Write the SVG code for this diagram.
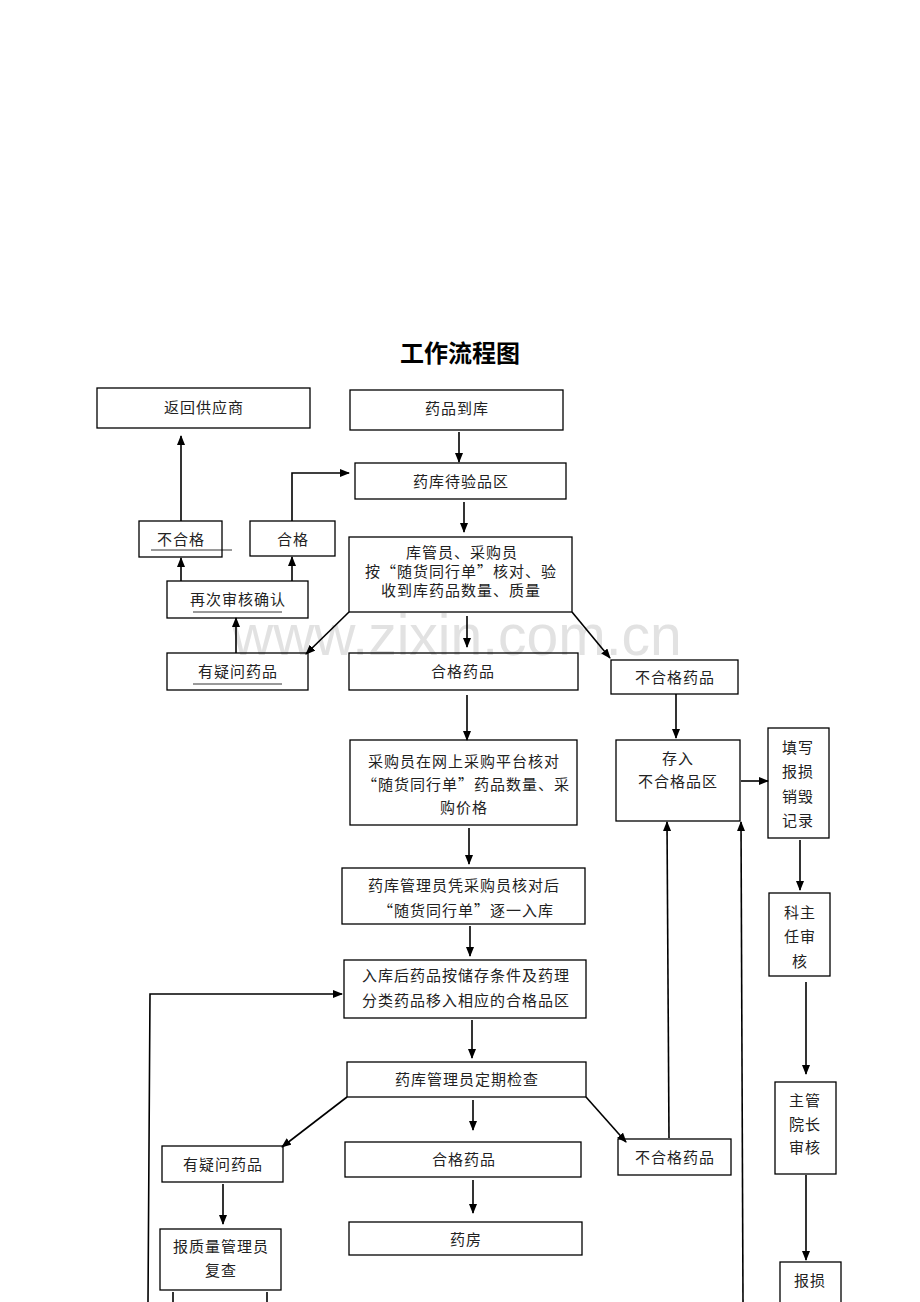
<svg xmlns="http://www.w3.org/2000/svg" width="920" height="1302" viewBox="0 0 920 1302">
<style>
.b{fill:none;stroke:#000;stroke-width:1.3}
.t{font-family:"Noto Sans CJK SC","Noto Sans",sans-serif;font-size:15px;fill:#222;text-anchor:middle;letter-spacing:1px}
.c{fill:none;stroke:#000;stroke-width:1.6}
.u{stroke:#000;stroke-width:0.8}
.wm{font-family:"Liberation Sans",Arial,sans-serif;font-size:57px;fill:#e2e2e2}
</style>
<defs>
<marker id="a" markerWidth="10" markerHeight="8" refX="9" refY="4" orient="auto" markerUnits="userSpaceOnUse">
<path d="M0,0 L10,4 L0,8 Z" fill="#000"/>
</marker>
</defs>
<rect width="920" height="1302" fill="#fff"/>
<text class="wm" x="232" y="655">www.zixin.com.cn</text>
<text x="460" y="362" font-family="Noto Sans CJK SC,sans-serif" font-size="24" font-weight="bold" text-anchor="middle" fill="#000">工作流程图</text>

<g id="n1"><rect class="b" x="97" y="388" width="213" height="40"/><text class="t" x="204" y="413">返回供应商</text></g>
<g id="n2"><rect class="b" x="350" y="390" width="213" height="40"/><text class="t" x="457" y="414">药品到库</text></g>
<g id="n3"><rect class="b" x="355" y="463" width="211" height="36"/><text class="t" x="461" y="487">药库待验品区</text></g>
<g id="n4"><rect class="b" x="139" y="521" width="83" height="36"/><text class="t" x="181" y="545">不合格</text><line class="u" x1="151" y1="550" x2="232" y2="550"/></g>
<g id="n5"><rect class="b" x="250" y="521" width="85" height="35"/><text class="t" x="293" y="545">合格</text></g>
<g id="n6"><rect class="b" x="349" y="537" width="223" height="75"/><text class="t" x="462" y="558">库管员、采购员</text><text class="t" x="461" y="577">按“随货同行单”核对、验</text><text class="t" x="461" y="596">收到库药品数量、质量</text></g>
<g id="n7"><rect class="b" x="167" y="581" width="141" height="37"/><text class="t" x="238" y="605">再次审核确认</text><line class="u" x1="193" y1="612" x2="282" y2="612"/></g>
<g id="n8"><rect class="b" x="167" y="653" width="141" height="37"/><text class="t" x="238" y="677">有疑问药品</text><line class="u" x1="193" y1="684" x2="282" y2="684"/></g>
<g id="n9"><rect class="b" x="349" y="653" width="229" height="37"/><text class="t" x="463" y="677">合格药品</text></g>
<g id="n10"><rect class="b" x="611" y="660" width="127" height="34"/><text class="t" x="675" y="683">不合格药品</text></g>
<g id="n11"><rect class="b" x="350" y="740" width="227" height="85"/><text class="t" x="464" y="767">采购员在网上采购平台核对</text><text class="t" x="466" y="790">“随货同行单”药品数量、采</text><text class="t" x="464" y="813">购价格</text></g>
<g id="n12"><rect class="b" x="616" y="740" width="124" height="81"/><text class="t" x="678" y="764">存入</text><text class="t" x="678" y="787">不合格品区</text></g>
<g id="n13"><rect class="b" x="768" y="728" width="61" height="110"/><text class="t" x="798" y="753">填写</text><text class="t" x="798" y="777">报损</text><text class="t" x="798" y="802">销毁</text><text class="t" x="798" y="826">记录</text></g>
<g id="n14"><rect class="b" x="342" y="868" width="243" height="56"/><text class="t" x="464" y="891">药库管理员凭采购员核对后</text><text class="t" x="466" y="916">“随货同行单”逐一入库</text></g>
<g id="n15"><rect class="b" x="769" y="893" width="61" height="83"/><text class="t" x="800" y="918">科主</text><text class="t" x="800" y="942">任审</text><text class="t" x="800" y="967">核</text></g>
<g id="n16"><rect class="b" x="344" y="960" width="242" height="58"/><text class="t" x="466" y="981">入库后药品按储存条件及药理</text><text class="t" x="466" y="1006">分类药品移入相应的合格品区</text></g>
<g id="n17"><rect class="b" x="347" y="1062" width="239" height="35"/><text class="t" x="467" y="1085">药库管理员定期检查</text></g>
<g id="n18"><rect class="b" x="775" y="1082" width="61" height="92"/><text class="t" x="805" y="1106">主管</text><text class="t" x="805" y="1130">院长</text><text class="t" x="805" y="1153">审核</text></g>
<g id="n19"><rect class="b" x="162" y="1146" width="121" height="36"/><text class="t" x="223" y="1170">有疑问药品</text></g>
<g id="n20"><rect class="b" x="345" y="1142" width="236" height="35"/><text class="t" x="464" y="1165">合格药品</text></g>
<g id="n21"><rect class="b" x="618" y="1139" width="113" height="36"/><text class="t" x="675" y="1163">不合格药品</text></g>
<g id="n22"><rect class="b" x="160" y="1229" width="121" height="61"/><text class="t" x="221" y="1252">报质量管理员</text><text class="t" x="221" y="1276">复查</text></g>
<g id="n23"><rect class="b" x="349" y="1222" width="233" height="33"/><text class="t" x="466" y="1245">药房</text></g>
<g id="n24"><rect class="b" x="780" y="1262" width="61" height="50"/><text class="t" x="810" y="1286">报损</text></g>

<g id="connectors">
<line class="c" x1="181" y1="521" x2="181" y2="436" marker-end="url(#a)"/>
<polyline class="c" points="292,521 292,473 349,473" marker-end="url(#a)"/>
<line class="c" x1="459" y1="432" x2="459" y2="462" marker-end="url(#a)"/>
<line class="c" x1="464" y1="502" x2="464" y2="532" marker-end="url(#a)"/>
<line class="c" x1="349" y1="612" x2="306" y2="654" marker-end="url(#a)"/>
<line class="c" x1="467" y1="616" x2="467" y2="647" marker-end="url(#a)"/>
<line class="c" x1="572" y1="612" x2="610" y2="658" marker-end="url(#a)"/>
<line class="c" x1="181" y1="581" x2="181" y2="558" marker-end="url(#a)"/>
<line class="c" x1="292" y1="581" x2="292" y2="557" marker-end="url(#a)"/>
<line class="c" x1="236" y1="653" x2="236" y2="618" marker-end="url(#a)"/>
<line class="c" x1="467" y1="695" x2="467" y2="740" marker-end="url(#a)"/>
<line class="c" x1="676" y1="694" x2="676" y2="738" marker-end="url(#a)"/>
<line class="c" x1="741" y1="781" x2="768" y2="781" marker-end="url(#a)"/>
<line class="c" x1="800" y1="840" x2="800" y2="890" marker-end="url(#a)"/>
<line class="c" x1="469" y1="828" x2="469" y2="864" marker-end="url(#a)"/>
<line class="c" x1="470" y1="926" x2="470" y2="956" marker-end="url(#a)"/>
<line class="c" x1="806" y1="982" x2="806" y2="1074" marker-end="url(#a)"/>
<line class="c" x1="472" y1="1020" x2="472" y2="1058" marker-end="url(#a)"/>
<polyline class="c" points="148,1302 150,994 342,994" marker-end="url(#a)"/>
<line class="c" x1="347" y1="1097" x2="282" y2="1147" marker-end="url(#a)"/>
<line class="c" x1="473" y1="1100" x2="473" y2="1130" marker-end="url(#a)"/>
<line class="c" x1="586" y1="1097" x2="626" y2="1142" marker-end="url(#a)"/>
<line class="c" x1="473" y1="1180" x2="473" y2="1213" marker-end="url(#a)"/>
<line class="c" x1="223" y1="1184" x2="223" y2="1224" marker-end="url(#a)"/>
<line class="c" x1="173" y1="1292" x2="173" y2="1302"/>
<line class="c" x1="267" y1="1292" x2="267" y2="1302"/>
<line class="c" x1="669" y1="1138" x2="667" y2="822" marker-end="url(#a)"/>
<line class="c" x1="743" y1="1302" x2="741" y2="822" marker-end="url(#a)"/>
<line class="c" x1="806" y1="1175" x2="806" y2="1260" marker-end="url(#a)"/>
</g>
</svg>
